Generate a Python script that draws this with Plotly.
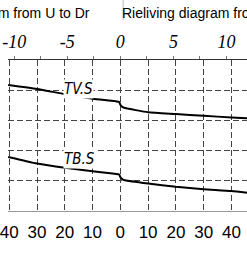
import plotly.graph_objects as go

# ---- data ----
bottom_tick_vals = [-40, -30, -20, -10, 0, 10, 20, 30, 40]
bottom_tick_text = ["40", "30", "20", "10", "0", "10", "20", "30", "40"]
top_tick_vals = [-10, -7.5, -5, -2.5, 0, 2.5, 5, 7.5, 10]
top_tick_text = ["-10", "", "-5", "", "0", "", "5", "", "10"]

x_pos = [-40.4, -30, -20, -10, -2, -0.4, 0, 0.8, 1.7, 10, 20, 30, 40, 45.6]
tvs_vals = [4.17, 4.04, 3.87, 3.72, 3.64, 3.61, 3.52, 3.44, 3.41, 3.27, 3.21, 3.15, 3.10, 3.07]
tbs_vals = [1.79, 1.57, 1.43, 1.32, 1.23, 1.21, 1.12, 1.05, 1.02, 0.91, 0.80, 0.72, 0.66, 0.60]

title_left = "Rieliving diagram from U to Dr"
title_right = "Rieliving diagram from Dr to U"

W, H = 247, 270
T, B = 60, 59.3
plot_h = H - T - B

fig = go.Figure()
for vals in (tvs_vals, tbs_vals):
    fig.add_trace(go.Scatter(x=x_pos, y=vals, mode="lines",
                             line=dict(color="black", width=2, shape="spline", smoothing=0.5),
                             showlegend=False, hoverinfo="skip"))
# invisible trace for top axis
fig.add_trace(go.Scatter(x=[0], y=[None], xaxis="x2", showlegend=False, hoverinfo="skip"))

grid = dict(showgrid=True, gridcolor="#444", gridwidth=1, griddash="6px,3px")

fig.update_layout(
    width=W, height=H, margin=dict(l=0, r=0, t=T, b=B),
    paper_bgcolor="white", plot_bgcolor="white",
    xaxis=dict(range=[-40.44, 45.6], tickvals=bottom_tick_vals, ticktext=bottom_tick_text,
               showline=True, linecolor="#999", linewidth=1, zeroline=False, ticks="",
               ticklabeloverflow="allow", ticklabelstandoff=6,
               tickfont=dict(family="Liberation Sans", size=17, color="black"), **grid),
    xaxis2=dict(range=[-10.59, 11.94], overlaying="x", side="top", tickvals=top_tick_vals,
                ticktext=top_tick_text, showline=True, linecolor="#333", linewidth=1,
                ticks="outside", ticklen=3, tickcolor="#777", showgrid=False, zeroline=False,
                ticklabeloverflow="allow", ticklabelstandoff=1,
                tickfont=dict(family="Liberation Serif", size=18, color="black", style="italic")),
    yaxis=dict(range=[0, 5], tickvals=[1, 2, 3, 4], showticklabels=False, zeroline=False,
               showline=False, **grid),
)

lab_font = dict(family="DejaVu Sans Condensed", size=15, color="black", style="italic")
fig.add_annotation(text="TV.S", x=-15.0, y=4.04, xref="x", yref="y", showarrow=False,
                   font=lab_font, bgcolor="white", borderpad=0)
fig.add_annotation(text="TB.S", x=-14.8, y=1.73, xref="x", yref="y", showarrow=False,
                   font=lab_font, bgcolor="white", borderpad=0)

fig.add_annotation(text=title_left, x=86 / W, xref="paper", xanchor="right",
                   y=1 + 47 / plot_h, yref="paper", yanchor="middle", showarrow=False,
                   borderpad=0, font=dict(family="Liberation Sans", size=14, color="black"))
fig.add_annotation(text=title_right, x=121 / W, xref="paper", xanchor="left", xshift=-4,
                   y=1 + 47 / plot_h, yref="paper", yanchor="middle", showarrow=False,
                   borderpad=0, font=dict(family="Liberation Sans", size=14, color="black"))
fig.add_shape(type="line", xref="paper", yref="paper", x0=119 / W, x1=119 / W,
              y0=1 + 40 / plot_h, y1=1 + 60 / plot_h, line=dict(color="#bbb", width=1))

fig.write_html("out.html")
